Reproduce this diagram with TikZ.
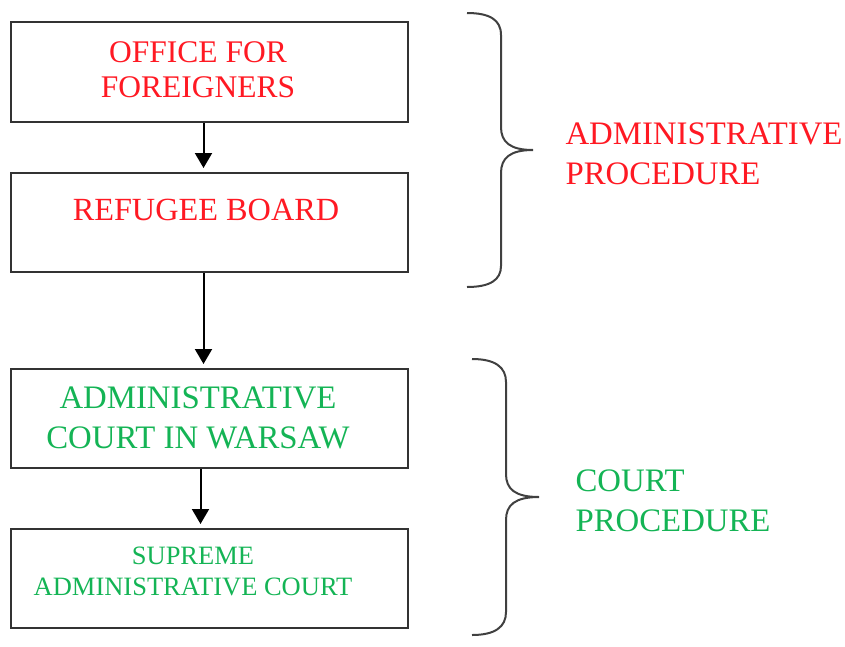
\documentclass[tikz,border=0pt]{standalone}
\usepackage{fontspec}
\setmainfont{Liberation Serif}
\usetikzlibrary{arrows.meta, positioning, calc}
\definecolor{procred}{RGB}{255,25,35}
\definecolor{procgreen}{RGB}{20,180,85}

\begin{document}
\begin{tikzpicture}[x=1pt, y=-1pt, >={Triangle[width=17pt,length=15pt]},
  box/.style={draw=black!80, line width=2pt, minimum width=397pt, inner sep=0pt},
  flow/.style={->, line width=2pt, shorten >=4pt},
  brace/.style={black!75, line width=2pt},
  big/.style={font=\fontsize{31.5}{35}\selectfont, align=center},
  small/.style={font=\fontsize{26.5}{31}\selectfont, align=center},
  side/.style={anchor=west, align=left, font=\fontsize{32.8}{40}\selectfont}]
  \useasboundingbox (0,0) rectangle (845,646);

  % the four instances
  \node[box, minimum height=100pt] (office) at (209.5,72) {};
  \node[box, minimum height=99pt] (board) at (209.5,222.5) {};
  \node[box, minimum height=99pt] (wsa) at (209.5,418.5) {};
  \node[box, minimum height=99pt] (nsa) at (209.5,578.5) {};

  \node[big, procred] (officetxt) at (198,70) {OFFICE FOR\\FOREIGNERS};
  \node[big, procred, font=\fontsize{32.3}{35}\selectfont] (boardtxt) at (206,210) {REFUGEE BOARD};
  \node[big, procgreen, font=\fontsize{32.8}{40}\selectfont] (wsatxt) at (198,417.5)
    {ADMINISTRATIVE\\COURT IN WARSAW};
  \node[small, procgreen] (nsatxt) at (193,571) {SUPREME\\ADMINISTRATIVE COURT};

  \draw[flow] ([xshift=-6pt]office.south) -- ([xshift=-6pt]board.north);
  \draw[flow] ([xshift=-6pt]board.south) -- ([xshift=-6pt]wsa.north);
  \draw[flow] ([xshift=-9pt]wsa.south) -- ([xshift=-9pt]nsa.north);

  % braces
  \draw[brace] (467,13) .. controls (490,13) and (501,20) .. (501,35) -- (501,127)
    .. controls (501,142) and (510,150) .. (533,150)
    .. controls (510,150) and (501,158) .. (501,173) -- (501,266)
    .. controls (501,280) and (490,287) .. (467,287);
  \draw[brace] (472,359) .. controls (495,359) and (506,367) .. (506,382) -- (506,474)
    .. controls (506,489) and (515,497) .. (539,497)
    .. controls (515,497) and (506,505) .. (506,520) -- (506,612)
    .. controls (506,627) and (495,635) .. (472,635);

  \node[side, procred] (admproc) at (562,154) {ADMINISTRATIVE\\PROCEDURE};
  \node[side, procgreen] (courtproc) at (572,501) {COURT\\PROCEDURE};
\end{tikzpicture}
\end{document}
